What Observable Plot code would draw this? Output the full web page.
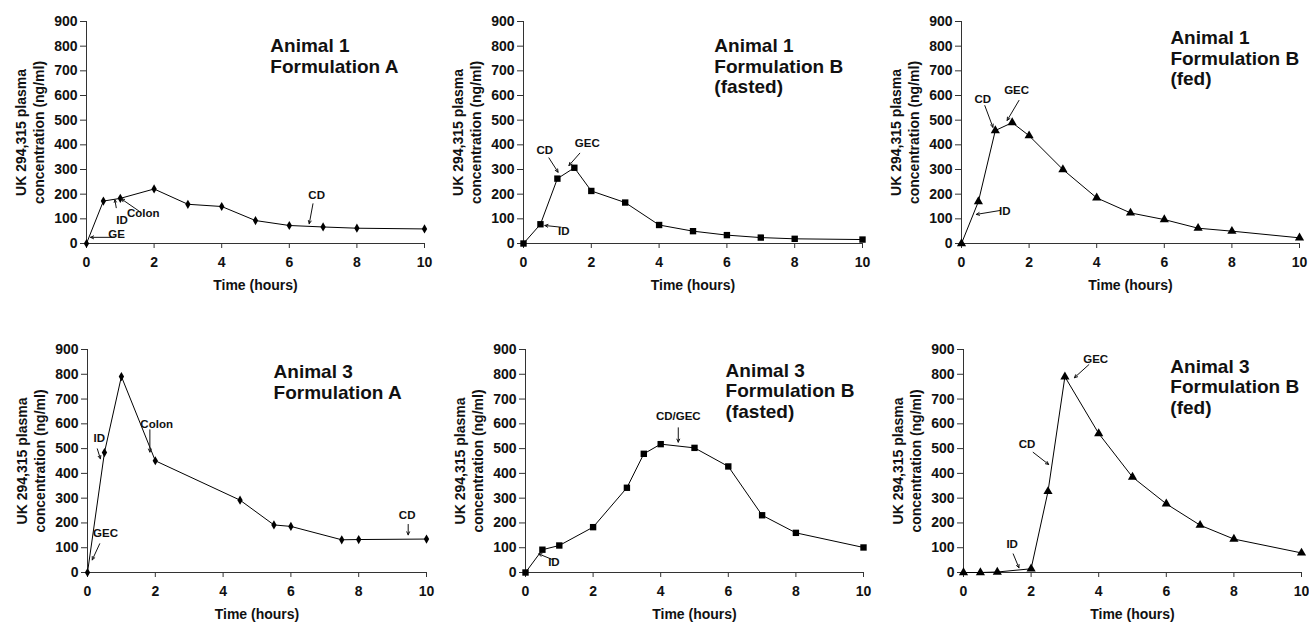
<!DOCTYPE html>
<html>
<head>
<meta charset="utf-8">
<script src="https://cdn.jsdelivr.net/npm/d3@7"></script>
<script src="https://cdn.jsdelivr.net/npm/@observablehq/plot@0.6"></script>
<style>
  body { margin: 0; background: #fff; }
  #fig { position: relative; width: 1309px; height: 627px; overflow: hidden; background: #fff; }
  #fig > div { position: absolute; }
</style>
</head>
<body>
<div id="fig"></div>
<script>
// Shared axis ticks
const xTicks = [0, 2, 4, 6, 8, 10];
const yTicks = [0, 100, 200, 300, 400, 500, 600, 700, 800, 900];

// Animal 1, Formulation A
const timeA1A = [0, 0.5, 1, 2, 3, 4, 5, 6, 7, 8, 10];
const concA1A = [0, 172, 183, 221, 159, 150, 93, 73, 67, 62, 59];

// Animal 1, Formulation B (fasted)
const timeA1Bfast = [0, 0.5, 1, 1.5, 2, 3, 4, 5, 6, 7, 8, 10];
const concA1Bfast = [0, 78, 263, 307, 213, 166, 75, 50, 34, 24, 19, 16];

// Animal 1, Formulation B (fed)
const timeA1Bfed = [0, 0.5, 1, 1.5, 2, 3, 4, 5, 6, 7, 8, 10];
const concA1Bfed = [0, 170, 458, 490, 437, 300, 185, 124, 97, 62, 50, 23];

// Animal 3, Formulation A
const timeA3A = [0, 0.5, 1, 2, 4.5, 5.5, 6, 7.5, 8, 10];
const concA3A = [0, 484, 791, 451, 292, 192, 186, 132, 133, 135];

// Animal 3, Formulation B (fasted)
const timeA3Bfast = [0, 0.5, 1, 2, 3, 3.5, 4, 5, 6, 7, 8, 10];
const concA3Bfast = [0, 92, 109, 183, 342, 479, 518, 503, 428, 231, 160, 101];

// Animal 3, Formulation B (fed)
const timeA3Bfed = [0, 0.5, 1, 2, 2.5, 3, 4, 5, 6, 7, 8, 10];
const concA3Bfed = [0, 0, 2, 15, 327, 790, 561, 385, 277, 191, 135, 79];

// Gamma-scintigraphy events: label position and arrow (from -> to), in data units
const notesA1A = [
  {label: "GE", tx: 0.89, ty: 37, anchor: "start", x1: 0.81, y1: 25, x2: 0.12, y2: 25},
  {label: "ID", tx: 1.05, ty: 96, anchor: "middle", x1: 0.88, y1: 145, x2: 0.84, y2: 177},
  {label: "Colon", tx: 1.68, ty: 123, anchor: "start", x1: 1.6, y1: 127, x2: 1.03, y2: 181},
  {label: "CD", tx: 6.81, ty: 195, anchor: "middle", x1: 6.70, y1: 161, x2: 6.59, y2: 80}
];
const notesA1Bfast = [
  {label: "CD", tx: 0.63, ty: 377, anchor: "middle", x1: 0.75, y1: 347, x2: 1.02, y2: 289},
  {label: "GEC", tx: 1.88, ty: 408, anchor: "middle", x1: 1.66, y1: 366, x2: 1.34, y2: 316},
  {label: "ID", tx: 1.19, ty: 50, anchor: "start", x1: 1.11, y1: 66, x2: 0.63, y2: 73}
];
const notesA1Bfed = [
  {label: "CD", tx: 0.63, ty: 584, anchor: "middle", x1: 0.69, y1: 559, x2: 0.93, y2: 471},
  {label: "GEC", tx: 1.63, ty: 620, anchor: "middle", x1: 1.70, y1: 580, x2: 1.35, y2: 499},
  {label: "ID", tx: 1.28, ty: 131, anchor: "start", x1: 1.15, y1: 134, x2: 0.44, y2: 118}
];
const notesA3A = [
  {label: "GEC", tx: 0.53, ty: 159, anchor: "middle", x1: 0.36, y1: 116, x2: 0.14, y2: 51},
  {label: "ID", tx: 0.35, ty: 542, anchor: "middle", x1: 0.29, y1: 499, x2: 0.38, y2: 459},
  {label: "Colon", tx: 2.04, ty: 597, anchor: "middle", x1: 1.84, y1: 576, x2: 1.84, y2: 486},
  {label: "CD", tx: 9.43, ty: 230, anchor: "middle", x1: 9.46, y1: 194, x2: 9.46, y2: 152}
];
const notesA3Bfast = [
  {label: "ID", tx: 0.84, ty: 42, anchor: "start", x1: 0.82, y1: 51, x2: 0.39, y2: 75},
  {label: "CD/GEC", tx: 4.52, ty: 630, anchor: "middle", x1: 4.52, y1: 584, x2: 4.52, y2: 526}
];
const notesA3Bfed = [
  {label: "GEC", tx: 3.91, ty: 862, anchor: "middle", x1: 3.71, y1: 839, x2: 3.28, y2: 786},
  {label: "CD", tx: 1.88, ty: 519, anchor: "middle", x1: 2.06, y1: 485, x2: 2.52, y2: 436},
  {label: "ID", tx: 1.44, ty: 113, anchor: "middle", x1: 1.47, y1: 75, x2: 1.64, y2: 19}
];

const yLabel = "UK 294,315 plasma\nconcentration (ng/ml)";

const panels = [
  {title: "Animal 1\nFormulation A", time: timeA1A, conc: concA1A, symbol: "diamond", r: 2.8, notes: notesA1A,
   tx: 5.44, ty: 835, left: 0, top: 0, width: 436, height: 310, marginRight: 12, marginBottom: 67},
  {title: "Animal 1\nFormulation B\n(fasted)", time: timeA1Bfast, conc: concA1Bfast, symbol: "square", r: 3.6, notes: notesA1Bfast,
   tx: 5.63, ty: 835, left: 437, top: 0, width: 436, height: 310, marginRight: 11, marginBottom: 67},
  {title: "Animal 1\nFormulation B\n(fed)", time: timeA1Bfed, conc: concA1Bfed, symbol: "triangle", r: 3.4, notes: notesA1Bfed,
   tx: 6.18, ty: 866, left: 875, top: 0, width: 434, height: 310, marginRight: 10, marginBottom: 67},
  {title: "Animal 3\nFormulation A", time: timeA3A, conc: concA3A, symbol: "diamond", r: 2.8, notes: notesA3A,
   tx: 5.49, ty: 842, left: 1, top: 328, width: 436, height: 299, marginRight: 11, marginBottom: 55},
  {title: "Animal 3\nFormulation B\n(fasted)", time: timeA3Bfast, conc: concA3Bfast, symbol: "square", r: 3.6, notes: notesA3Bfast,
   tx: 5.92, ty: 849, left: 439, top: 328, width: 436, height: 299, marginRight: 12, marginBottom: 55},
  {title: "Animal 3\nFormulation B\n(fed)", time: timeA3Bfed, conc: concA3Bfed, symbol: "triangle", r: 3.4, notes: notesA3Bfed,
   tx: 6.12, ty: 865, left: 877, top: 328, width: 432, height: 299, marginRight: 8, marginBottom: 55}
];

const fig = document.getElementById("fig");

for (const p of panels) {
  const points = p.time.map((t, i) => ({t, c: p.conc[i]}));
  const chart = Plot.plot({
    width: p.width,
    height: p.height,
    marginLeft: 86,
    marginRight: p.marginRight,
    marginTop: 21,
    marginBottom: p.marginBottom,
    style: {fontFamily: "'Liberation Sans', Arial, sans-serif", fontSize: "14px", fontWeight: "bold", color: "#111", background: "#fff"},
    x: {domain: [0, 10], ticks: xTicks},
    y: {domain: [0, 900], ticks: yTicks},
    marks: [
      Plot.axisY({ticks: yTicks, tickSize: 6, tickPadding: 3, label: null, stroke: "#333", fill: "#111"}),
      Plot.axisX({ticks: xTicks, tickSize: 5, tickPadding: 9, label: null, stroke: "#333", fill: "#111"}),
      Plot.ruleX([0], {stroke: "#333"}),
      Plot.ruleY([0], {stroke: "#333"}),
      Plot.line(points, {x: "t", y: "c", stroke: "#000", strokeWidth: 1}),
      Plot.dot(points, {x: "t", y: "c", symbol: () => p.symbol, r: p.r, fill: "#000", stroke: "none"}),
      Plot.arrow(p.notes, {x1: "x1", y1: "y1", x2: "x2", y2: "y2", stroke: "#111", strokeWidth: 1, headLength: 5, headAngle: 50}),
      Plot.text(p.notes, {x: "tx", y: "ty", text: "label", textAnchor: (d) => d.anchor, fontSize: 11.5, fontWeight: "bold", fill: "#111"}),
      Plot.text([p.title], {x: p.tx, y: p.ty, text: (d) => d, textAnchor: "start", lineAnchor: "top", fontSize: 19, lineHeight: 1.08, fontWeight: "bold", fill: "#111"}),
      Plot.text([yLabel], {x: -1.7, y: 450, text: (d) => d, rotate: -90, textAnchor: "middle", lineAnchor: "middle", fontSize: 14, lineHeight: 1.3, fontWeight: "bold", fill: "#111"}),
      Plot.text(["Time (hours)"], {frameAnchor: "bottom", text: (d) => d, dy: 46, fontSize: 14, fontWeight: "bold", fill: "#111"})
    ]
  });
  const box = document.createElement("div");
  box.style.left = p.left + "px";
  box.style.top = p.top + "px";
  box.appendChild(chart);
  fig.appendChild(box);
}
</script>
</body>
</html>
